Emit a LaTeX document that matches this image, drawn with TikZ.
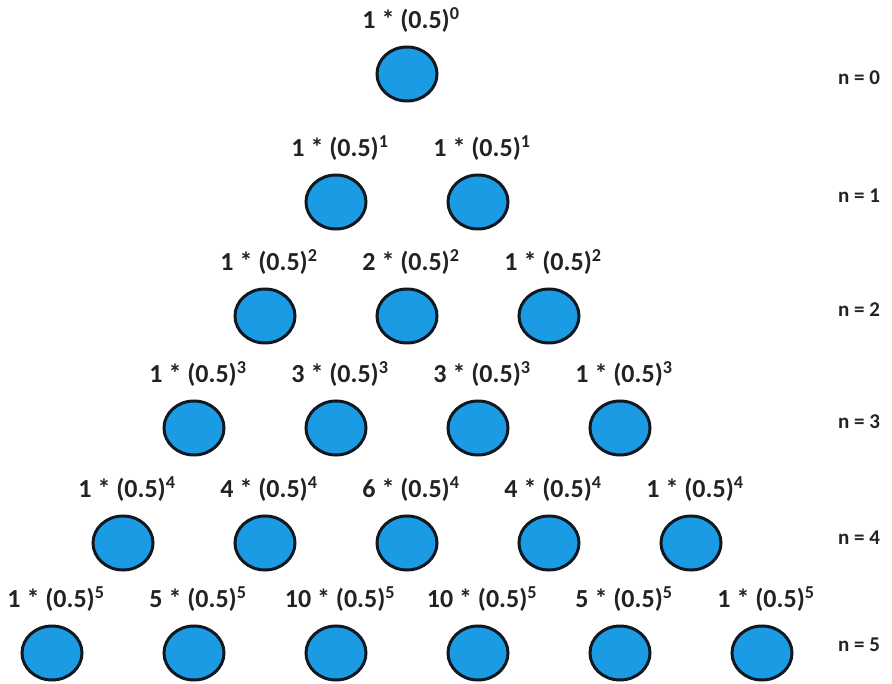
\documentclass[tikz,border=0pt]{standalone}
\usepackage{fontspec}
\setmainfont{Carlito}
\usepackage{tikz}
\usetikzlibrary{shapes.geometric, positioning}
\definecolor{celeste}{HTML}{1B9BE4}
\definecolor{borde}{HTML}{111820}
\definecolor{texto}{HTML}{222222}
\tikzset{
  every picture/.style={font=\bfseries},
  bola/.style={ellipse, draw=borde, fill=celeste, line width=3pt,
               minimum width=60pt, minimum height=54pt, inner sep=0pt},
  etiq/.style={anchor=base, text=texto, inner sep=0pt,
               font=\fontsize{26}{30}\selectfont\bfseries},
  nfila/.style={text=texto, inner sep=0pt,
               font=\fontsize{21}{25}\selectfont\bfseries},
}

\begin{document}
\begin{tikzpicture}[x=1pt, y=-1pt]
  \useasboundingbox (0,0) rectangle (892,684);
  \foreach \n/\y/\ny/\coefs in {0/74/78/{1}, 1/202/196/{1,1}, 2/316/310/{1,2,1},
      3/428/422/{1,3,3,1}, 4/543/538/{1,4,6,4,1}, 5/653/645/{1,5,10,10,5,1}} {
    \foreach \c [count=\k from 0] in \coefs {
      \node[bola] (b\n-\k) at ({407+(\k-\n/2)*142}, \y) {};
      \node[etiq] (e\n-\k) at ([xshift=4pt, yshift=17pt]b\n-\k.north) {\c\ * (0.5)\textsuperscript{\n}};
    }
    \node[nfila] (n\n) at (859, \ny) {n = \n};
  }
\end{tikzpicture}
\end{document}
